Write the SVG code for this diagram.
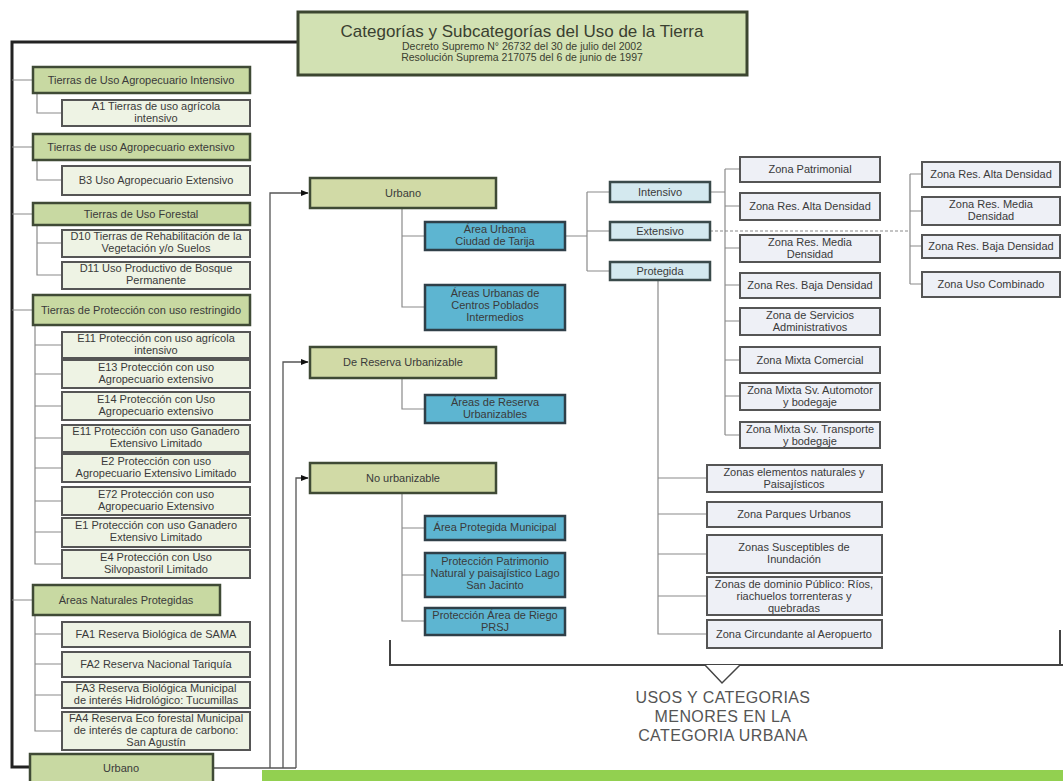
<svg xmlns="http://www.w3.org/2000/svg" width="1063" height="781" viewBox="0 0 1063 781">
<style>
text{font-family:"Liberation Sans",Arial,sans-serif;fill:#3a3a3a;font-size:11px;text-anchor:middle}
.c{fill:none;stroke:#8a8a8a;stroke-width:1.2}
.a{fill:none;stroke:#555;stroke-width:1.3}
.thick{fill:none;stroke:#222;stroke-width:3}
.g1{fill:#c8d9a2;stroke:#3f4a35;stroke-width:2.5}
.s1{fill:#eef3e4;stroke:#555;stroke-width:2}
.g2{fill:#d1daa6;stroke:#3f4a35;stroke-width:2.5}
.bl{fill:#5db5d1;stroke:#2f3f48;stroke-width:2.5}
.lb{fill:#d4e9ef;stroke:#3a4a4a;stroke-width:2.5}
.gr{fill:#eef0f6;stroke:#555;stroke-width:2}
.big{font-size:17px;fill:#3a4030}
.sm{font-size:10.5px;fill:#3a4030}
.lbl{font-size:16px;fill:#555;letter-spacing:0.4px}
</style>
<defs>
<marker id="ar" viewBox="0 0 10 10" refX="9" refY="5" markerWidth="6" markerHeight="6" orient="auto"><path d="M0,1 L10,5 L0,9 z" fill="#111"/></marker>
</defs>
<rect width="1063" height="781" fill="#fff"/>

<g id="connectors">
<path class="thick" d="M298,42 H12 V767 H30"/>
<path class="c" d="M12,80 H33 M12,147 H33 M12,214 H33 M12,310 H33 M12,600 H33"/>
<path class="c" d="M37,93 V113 H62 M37,160 V180 H62 M37,225 V275 H62 M37,243 H62 M35,325 V564 H62 M35,345 H62 M35,374 H62 M35,406 H62 M35,438 H62 M35,468 H62 M35,501 H62 M35,532 H62 M35,615 V731 H62 M35,634 H62 M35,664 H62 M35,695 H62"/>
<path class="a" d="M213,768 H296"/>
<path class="a" d="M270,768 V193 H308" marker-end="url(#ar)"/>
<path class="a" d="M283,768 V362 H308" marker-end="url(#ar)"/>
<path class="a" d="M296,768 V478 H308" marker-end="url(#ar)"/>
<path class="c" d="M402,208 V307 H425 M402,236 H425 M402,378 V409 H425 M402,493 V621 H425 M402,528 H425 M402,575 H425"/>
<path class="c" d="M565,236 H587 M587,192 V271 M587,192 H610 M587,231 H610 M587,271 H610"/>
<path class="c" d="M710,192 H725 M725,169 V435 M725,169 H740 M725,206 H740 M725,248 H740 M725,285 H740 M725,321 H740 M725,360 H740 M725,396 H740 M725,435 H740"/>
<path class="c" d="M710,231 H910" stroke-dasharray="3 2"/>
<path class="c" d="M910,174 V284 M910,174 H922 M910,211 H922 M910,246 H922 M910,284 H922"/>
<path class="c" d="M658,280 V634 H707 M658,478 H707 M658,514 H707 M658,554 H707 M658,596 H707"/>
<path d="M390,640 V665 H1063 M1060,630 V665" fill="none" stroke="#444" stroke-width="2"/>
<path d="M705,665 L722,683 L740,665" fill="#fff" stroke="#444" stroke-width="1.5"/>
</g>

<g id="title"><rect x="298" y="12" width="449" height="63" fill="#d2e1b3" stroke="#3c4630" stroke-width="3"/>
<text x="522" y="37" class="big">Categorías y Subcategorías del Uso de la Tierra</text>
<text x="522" y="50" class="sm">Decreto Supremo N° 26732 del 30 de julio del 2002</text>
<text x="522" y="61" class="sm">Resolución Suprema 217075 del 6 de junio de 1997</text></g>

<g id="n_a"><rect class="g1" x="33" y="67" width="217" height="26"/><text x="141" y="84">Tierras de Uso Agropecuario Intensivo</text></g>
<g id="n_a1"><rect class="s1" x="62" y="100" width="188" height="26"/><text x="156" y="110">A1 Tierras de uso agrícola</text><text x="156" y="122">intensivo</text></g>
<g id="n_b"><rect class="g1" x="33" y="134" width="217" height="26"/><text x="141" y="151">Tierras de uso Agropecuario extensivo</text></g>
<g id="n_b3"><rect class="s1" x="62" y="166" width="188" height="29"/><text x="156" y="184">B3 Uso Agropecuario Extensivo</text></g>
<g id="n_d"><rect class="g1" x="33" y="203" width="217" height="22"/><text x="141" y="218">Tierras de Uso Forestal</text></g>
<g id="n_d10"><rect class="s1" x="62" y="230" width="188" height="27"/><text x="156" y="240">D10 Tierras de Rehabilitación de la</text><text x="156" y="252">Vegetación y/o Suelos</text></g>
<g id="n_d11"><rect class="s1" x="62" y="262" width="188" height="27"/><text x="156" y="272">D11 Uso Productivo de Bosque</text><text x="156" y="284">Permanente</text></g>
<g id="n_e"><rect class="g1" x="33" y="295" width="217" height="30"/><text x="141" y="314">Tierras de Protección con uso restringido</text></g>
<g id="n_e11"><rect class="s1" x="62" y="332" width="188" height="26"/><text x="156" y="342">E11 Protección con uso agrícola</text><text x="156" y="354">intensivo</text></g>
<g id="n_e13"><rect class="s1" x="62" y="360" width="188" height="28"/><text x="156" y="371">E13 Protección con uso</text><text x="156" y="383">Agropecuario extensivo</text></g>
<g id="n_e14"><rect class="s1" x="62" y="392" width="188" height="28"/><text x="156" y="403">E14 Protección con Uso</text><text x="156" y="415">Agropecuario extensivo</text></g>
<g id="n_e11b"><rect class="s1" x="62" y="425" width="188" height="27"/><text x="156" y="435">E11 Protección con uso Ganadero</text><text x="156" y="447">Extensivo Limitado</text></g>
<g id="n_e2"><rect class="s1" x="62" y="454" width="188" height="28"/><text x="156" y="465">E2 Protección con uso</text><text x="156" y="477">Agropecuario Extensivo Limitado</text></g>
<g id="n_e72"><rect class="s1" x="62" y="487" width="188" height="28"/><text x="156" y="498">E72 Protección con uso</text><text x="156" y="510">Agropecuario Extensivo</text></g>
<g id="n_e1"><rect class="s1" x="62" y="518" width="188" height="29"/><text x="156" y="529">E1 Protección con uso Ganadero</text><text x="156" y="541">Extensivo Limitado</text></g>
<g id="n_e4"><rect class="s1" x="62" y="550" width="188" height="28"/><text x="156" y="561">E4 Protección con Uso</text><text x="156" y="573">Silvopastoril Limitado</text></g>
<g id="n_fa"><rect class="g1" x="33" y="585" width="187" height="30"/><text x="126" y="604">Áreas Naturales Protegidas</text></g>
<g id="n_fa1"><rect class="s1" x="62" y="622" width="188" height="25"/><text x="156" y="638">FA1 Reserva Biológica de SAMA</text></g>
<g id="n_fa2"><rect class="s1" x="62" y="652" width="188" height="25"/><text x="156" y="668">FA2 Reserva Nacional Tariquía</text></g>
<g id="n_fa3"><rect class="s1" x="62" y="682" width="188" height="26"/><text x="156" y="692">FA3 Reserva Biológica Municipal</text><text x="156" y="704">de interés Hidrológico: Tucumillas</text></g>
<g id="n_fa4"><rect class="s1" x="62" y="712" width="188" height="38"/><text x="156" y="722">FA4 Reserva Eco forestal Municipal</text><text x="156" y="734">de interés de captura de carbono:</text><text x="156" y="746">San Agustín</text></g>
<g id="n_urb0"><rect class="g1" x="30" y="754" width="183" height="30"/><text x="121" y="772">Urbano</text></g>

<g id="n_urb"><rect class="g2" x="310" y="178" width="186" height="30"/><text x="403" y="197">Urbano</text></g>
<g id="n_au"><rect class="bl" x="425" y="222" width="140" height="28"/><text x="495" y="233">Área Urbana</text><text x="495" y="245">Ciudad de Tarija</text></g>
<g id="n_acp"><rect class="bl" x="425" y="285" width="140" height="45"/><text x="495" y="297">Áreas Urbanas de</text><text x="495" y="309">Centros Poblados</text><text x="495" y="321">Intermedios</text></g>
<g id="n_res"><rect class="g2" x="310" y="347" width="186" height="31"/><text x="403" y="366">De Reserva Urbanizable</text></g>
<g id="n_ares"><rect class="bl" x="425" y="395" width="140" height="28"/><text x="495" y="406">Áreas de Reserva</text><text x="495" y="418">Urbanizables</text></g>
<g id="n_nou"><rect class="g2" x="310" y="463" width="186" height="30"/><text x="403" y="482">No urbanizable</text></g>
<g id="n_apm"><rect class="bl" x="425" y="516" width="140" height="24"/><text x="495" y="531">Área Protegida Municipal</text></g>
<g id="n_ppn"><rect class="bl" x="425" y="553" width="140" height="44"/><text x="495" y="565">Protección Patrimonio</text><text x="495" y="577">Natural y paisajístico Lago</text><text x="495" y="589">San Jacinto</text></g>
<g id="n_par"><rect class="bl" x="425" y="608" width="140" height="27"/><text x="495" y="619">Protección Área de Riego</text><text x="495" y="631">PRSJ</text></g>

<g id="n_int"><rect class="lb" x="610" y="182" width="100" height="20"/><text x="660" y="196">Intensivo</text></g>
<g id="n_ext"><rect class="lb" x="610" y="222" width="100" height="18"/><text x="660" y="235">Extensivo</text></g>
<g id="n_pro"><rect class="lb" x="610" y="262" width="100" height="18"/><text x="660" y="275">Protegida</text></g>

<g id="n_zp"><rect class="gr" x="740" y="157" width="140" height="25"/><text x="810" y="173">Zona Patrimonial</text></g>
<g id="n_zra"><rect class="gr" x="740" y="193" width="140" height="27"/><text x="810" y="210">Zona Res. Alta Densidad</text></g>
<g id="n_zrm"><rect class="gr" x="740" y="235" width="140" height="27"/><text x="810" y="246">Zona Res. Media</text><text x="810" y="258">Densidad</text></g>
<g id="n_zrb"><rect class="gr" x="740" y="273" width="140" height="25"/><text x="810" y="289">Zona Res. Baja Densidad</text></g>
<g id="n_zsa"><rect class="gr" x="740" y="308" width="140" height="27"/><text x="810" y="319">Zona de Servicios</text><text x="810" y="331">Administrativos</text></g>
<g id="n_zmc"><rect class="gr" x="740" y="347" width="140" height="26"/><text x="810" y="364">Zona Mixta Comercial</text></g>
<g id="n_zma"><rect class="gr" x="740" y="383" width="140" height="27"/><text x="810" y="394">Zona Mixta Sv. Automotor</text><text x="810" y="406">y bodegaje</text></g>
<g id="n_zmt"><rect class="gr" x="740" y="422" width="140" height="26"/><text x="810" y="433">Zona Mixta Sv. Transporte</text><text x="810" y="445">y bodegaje</text></g>

<g id="n_fra"><rect class="gr" x="922" y="162" width="138" height="25"/><text x="991" y="178">Zona Res. Alta Densidad</text></g>
<g id="n_frm"><rect class="gr" x="922" y="197" width="138" height="28"/><text x="991" y="208">Zona Res. Media</text><text x="991" y="220">Densidad</text></g>
<g id="n_frb"><rect class="gr" x="922" y="235" width="138" height="23"/><text x="991" y="250">Zona Res. Baja Densidad</text></g>
<g id="n_fuc"><rect class="gr" x="922" y="272" width="138" height="25"/><text x="991" y="288">Zona Uso Combinado</text></g>

<g id="n_zen"><rect class="gr" x="707" y="465" width="175" height="27"/><text x="794" y="476">Zonas elementos naturales y</text><text x="794" y="488">Paisajísticos</text></g>
<g id="n_zpu"><rect class="gr" x="707" y="502" width="175" height="25"/><text x="794" y="518">Zona Parques Urbanos</text></g>
<g id="n_zsi"><rect class="gr" x="707" y="535" width="175" height="38"/><text x="794" y="551">Zonas Susceptibles de</text><text x="794" y="563">Inundación</text></g>
<g id="n_zdp"><rect class="gr" x="707" y="577" width="175" height="38"/><text x="794" y="588">Zonas de dominio Público: Ríos,</text><text x="794" y="600">riachuelos torrenteras y</text><text x="794" y="612">quebradas</text></g>
<g id="n_zca"><rect class="gr" x="707" y="620" width="175" height="28"/><text x="794" y="638">Zona Circundante al Aeropuerto</text></g>

<g id="label"><text x="723" y="703" class="lbl">USOS Y CATEGORIAS</text><text x="723" y="722" class="lbl">MENORES EN LA</text><text x="723" y="741" class="lbl">CATEGORIA URBANA</text></g>
<rect x="262" y="770" width="801" height="11" fill="#92d050"/>
</svg>
